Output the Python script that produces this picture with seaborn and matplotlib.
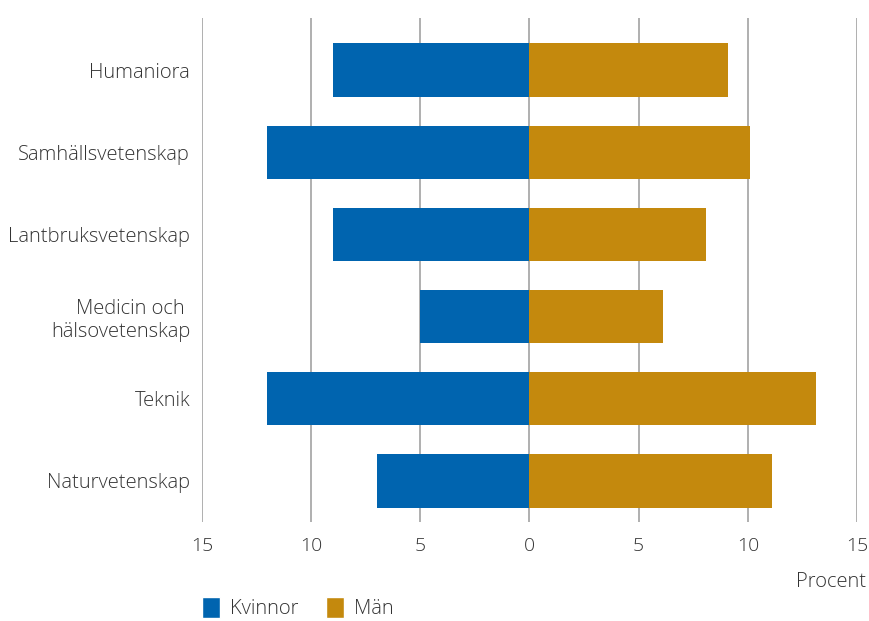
import matplotlib
matplotlib.use("Agg")
import matplotlib.pyplot as plt
import seaborn as sns
import pandas as pd
from matplotlib.patches import Patch

categories = ["Humaniora", "Samhällsvetenskap", "Lantbruksvetenskap",
              "Medicin och \nhälsovetenskap", "Teknik", "Naturvetenskap"]
kvinnor = [9.0, 12.0, 9.0, 5.0, 12.0, 7.0]
man = [9.1, 10.1, 8.1, 6.1, 13.1, 11.1]
xticks = [-15, -10, -5, 0, 5, 10, 15]
xticklabels = ["15", "10", "5", "0", "5", "10", "15"]

sns.set_theme(style="white")
plt.rcParams['font.family'] = ['Open Sans', 'DejaVu Sans']
plt.rcParams['font.weight'] = 'light'

BLUE = "#0064AF"
GOLD = "#C4890D"
TEXT = "#333333"

df = pd.DataFrame({"kat": categories, "Kvinnor": [-v for v in kvinnor], "Män": man})

fig = plt.figure(figsize=(8.7, 6.21), dpi=100)
ax = fig.add_axes([202/870, 1-522/621, (857-202)/870, (522-18)/621])

sns.barplot(data=df, y="kat", x="Kvinnor", color=BLUE, orient="h", width=0.65,
            ax=ax, saturation=1, linewidth=0)
sns.barplot(data=df, y="kat", x="Män", color=GOLD, orient="h", width=0.65,
            ax=ax, saturation=1, linewidth=0)

ax.set_xlim(-15, 15)
ax.set_ylim(5.5, -0.634)
ax.set_xticks(xticks)
ax.set_xticklabels(xticklabels)
ax.set_xlabel("")
ax.set_ylabel("")
for s in ax.spines.values():
    s.set_visible(False)
ax.set_axisbelow(True)
ax.grid(axis="x", color="#9a9a9a", linewidth=1.1)
ax.grid(axis="y", visible=False)
ax.tick_params(axis="x", length=0, pad=11, labelsize=14, labelcolor=TEXT)
ax.tick_params(axis="y", length=0, pad=8.5, labelsize=14.5, labelcolor=TEXT)
for lbl in ax.get_yticklabels():
    lbl.set_horizontalalignment("right")
    lbl.set_multialignment("right")

fig.text(866/870, 1-582/621, "Procent", ha="right", va="center", fontsize=14.5, color=TEXT)

handles = [Patch(facecolor=BLUE, label="Kvinnor"), Patch(facecolor=GOLD, label="Män")]
fig.legend(handles=handles, loc="center left", bbox_to_anchor=(192/870, 1-608/621),
           ncol=2, frameon=False, fontsize=14.5, handlelength=0.9, handleheight=1.2,
           handletextpad=0.5, columnspacing=1.35, labelcolor=TEXT, borderpad=0)

fig.savefig("out.png", dpi=100)
